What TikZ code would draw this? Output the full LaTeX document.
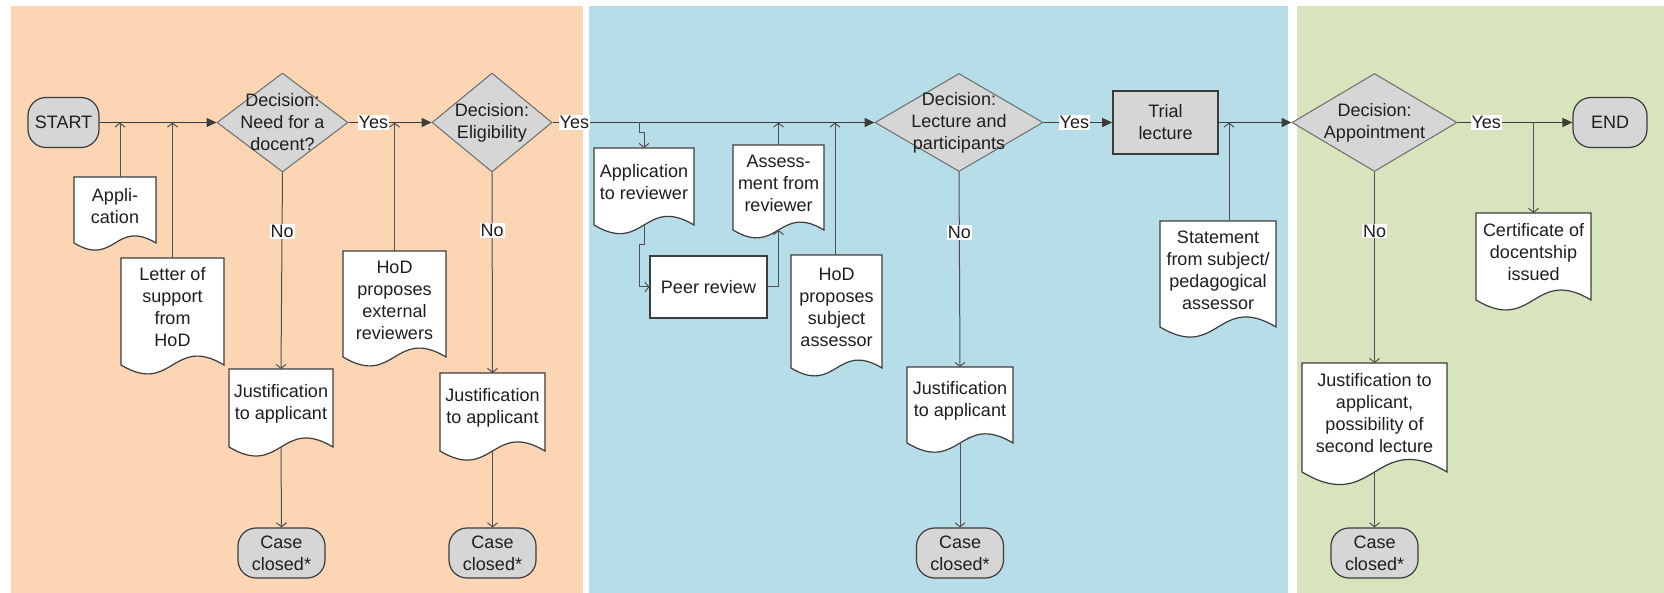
\documentclass[tikz,border=0pt]{standalone}
\usepackage{fontspec}
\setmainfont{Liberation Sans}
\usetikzlibrary{shapes.geometric,arrows.meta}
\definecolor{peach}{HTML}{FCD5B5}
\definecolor{aqua}{HTML}{B7DEE8}
\definecolor{olive}{HTML}{D7E4BD}
\definecolor{shapegray}{HTML}{D6D6D6}
\definecolor{edge}{HTML}{3C3C3C}
\definecolor{conn}{HTML}{4F4F4F}
\definecolor{txt}{HTML}{1E1E1E}
\tikzset{
  base/.style={font=\fontsize{18}{22}\selectfont, align=center, text=txt},
  term/.style={base, rectangle, rounded corners=18pt, draw=edge, line width=1.2pt, fill=shapegray, inner sep=0},
  dec/.style={diamond, draw=gray!85!black, line width=1pt, fill=shapegray, inner sep=0},
  proc/.style={base, rectangle, draw=edge, line width=1.2pt, fill=white, inner sep=0},
  docpath/.style={draw=edge, line width=1.2pt, fill=white},
  doctext/.style={base, inner sep=0},
  mainarr/.style={draw=edge, line width=1.5pt, -{Triangle[length=10pt,width=9pt]}},
  sidearr/.style={draw=conn, line width=1pt, -{Straight Barb[length=4pt,width=10pt]}},
  lbl/.style={base, fill=white, inner xsep=1pt, inner ysep=1pt},
}
\newcommand\docnode[6]{%
  \path[docpath] (#2,#3) -- (#4,#3) -- (#4,#5)
    .. controls ({(#2+#4)/2},{#5-0.3*(#4-#2)}) and ({(#2+#4)/2},{#5+0.3*(#4-#2)}) .. (#2,#5) -- cycle;
  \coordinate (#1-n) at ({(#2+#4)/2},#3);
  \coordinate (#1-s) at ({(#2+#4)/2},#5);
  \node[doctext] (#1) at ({(#2+#4)/2},{(#3+#5)/2-4}) {#6};
}
\begin{document}
\begin{tikzpicture}[x=1pt,y=-1pt]
\useasboundingbox (0,0) rectangle (1664,593);
\fill[white] (0,0) rectangle (1664,593);
% panels
\fill[peach] (11,6) rectangle (583,593);
\fill[aqua] (589,6) rectangle (1288,593);
\fill[olive] (1297,6) rectangle (1664,593);

% terminals, decisions, processes
\node[term, minimum width=71pt, minimum height=50pt] (start) at (63.5,122.5) {START};
\node[dec, minimum width=131pt, minimum height=99pt] (d1) at (282.5,122.5) {};
\node[base] (d1t) at (282.5,122.5) {Decision:\\Need for a\\docent?};
\node[dec, minimum width=120pt, minimum height=99pt] (d2) at (492,122.5) {};
\node[base] (d2t) at (492,122.5) {Decision:\\Eligibility};
\node[dec, minimum width=168pt, minimum height=98pt] (d3) at (959,122.5) {};
\node[base] (d3t) at (959,122.5) {Decision:\\Lecture and\\participants};
\node[proc, fill=shapegray, line width=1.6pt, minimum width=105pt, minimum height=63pt] (trial) at (1165.5,122.5) {Trial\\lecture};
\node[dec, minimum width=165pt, minimum height=98pt] (d4) at (1374.5,122.5) {};
\node[base] (d4t) at (1374.5,122.5) {Decision:\\Appointment};
\node[term, minimum width=74pt, minimum height=50pt] (end) at (1610,122.5) {END};
\node[proc, minimum width=117pt, minimum height=62pt] (pr) at (708.5,287) {Peer review};

% documents
\docnode{app}{74}{177}{156}{243}{Appli-\\cation}
\docnode{let}{121}{258}{224}{365}{Letter of\\support\\from\\HoD}
\docnode{hx}{343}{251}{446}{357}{HoD\\proposes\\external\\reviewers}
\docnode{ja}{229}{369}{333}{447}{Justification\\to applicant}
\docnode{jb}{440}{373}{545}{451}{Justification\\to applicant}
\docnode{ar}{594}{148}{694}{225}{Application\\to reviewer}
\docnode{as}{733}{145}{824}{230}{Assess-\\ment from\\reviewer}
\docnode{hs}{791}{255}{882}{368}{HoD\\proposes\\subject\\assessor}
\docnode{st}{1160}{221}{1276}{327}{Statement\\from subject/\\pedagogical\\assessor}
\docnode{jc}{907}{367}{1013}{443}{Justification\\to applicant}
\docnode{ce}{1476}{213}{1591}{300}{Certificate of\\docentship\\issued}
\docnode{jd}{1302}{363}{1447}{472}{Justification to\\applicant,\\possibility of\\second lecture}

% case closed
\node[term, minimum width=87pt, minimum height=50pt] (ca) at (281.5,553) {Case\\closed*};
\node[term, minimum width=87pt, minimum height=50pt] (cb) at (492.5,553) {Case\\closed*};
\node[term, minimum width=87pt, minimum height=50pt] (cc) at (960,553) {Case\\closed*};
\node[term, minimum width=87pt, minimum height=50pt] (cd) at (1374.5,553) {Case\\closed*};

% main flow
\draw[mainarr] (start.east) -- (d1.west);
\draw[mainarr] (d1.east) -- node[lbl, pos=0.3] (y1) {Yes} (d2.west);
\draw[mainarr] (d2.east) -- node[lbl, pos=0.068] (y2) {Yes} (d3.west);
\draw[mainarr] (d3.east) -- node[lbl, pos=0.45] (y3) {Yes} (trial.west);
\draw[mainarr] (trial.east) -- (d4.west);
\draw[mainarr] (d4.east) -- node[lbl, pos=0.25] (y4) {Yes} (end.west);

% inputs into the main flow
\draw[sidearr] ([xshift=5pt]app-n) -- ([xshift=5pt]app-n |- start.east);
\draw[sidearr] (let-n) -- (let-n |- start.east);
\draw[sidearr] (hx-n) -- (hx-n |- d1.east);
\draw[sidearr] (as-n) -- (as-n |- d3.west);
\draw[sidearr] ([xshift=-1.5pt]hs-n) -- ([xshift=-1.5pt]hs-n |- d3.west);
\draw[sidearr] ([xshift=11pt]st-n) -- ([xshift=11pt]st-n |- trial.east);

% review loop
\coordinate (tap) at (639,122.5);
\coordinate (jog) at (639,245);
\draw[sidearr] (tap) -- ++(0,10) -| (ar-n);
\draw[sidearr] (ar-s) -- (ar-s |- jog) -- (jog) -- (jog |- pr.west) -- (pr.west);
\draw[sidearr] (pr.east) -- (pr.east -| as-s) -- (as-s);

% certificate branch
\draw[sidearr] (ce-n |- d4.east) -- (ce-n);

% No branches
\draw[sidearr] (d1.south) -- node[lbl, pos=0.3] (n1) {No} (ja-n);
\draw[sidearr] (d2.south) -- node[lbl, pos=0.29] (n2) {No} (jb-n);
\draw[sidearr] (d3.south) -- node[lbl, pos=0.31] (n3) {No} (jc-n);
\draw[sidearr] (d4.south) -- node[lbl, pos=0.31] (n4) {No} (jd-n);

% to case closed
\draw[sidearr] (ja-s) -- (ca.north);
\draw[sidearr] (jb-s) -- (cb.north);
\draw[sidearr] (jc-s) -- (cc.north);
\draw[sidearr] (jd-s) -- (cd.north);
\end{tikzpicture}
\end{document}
